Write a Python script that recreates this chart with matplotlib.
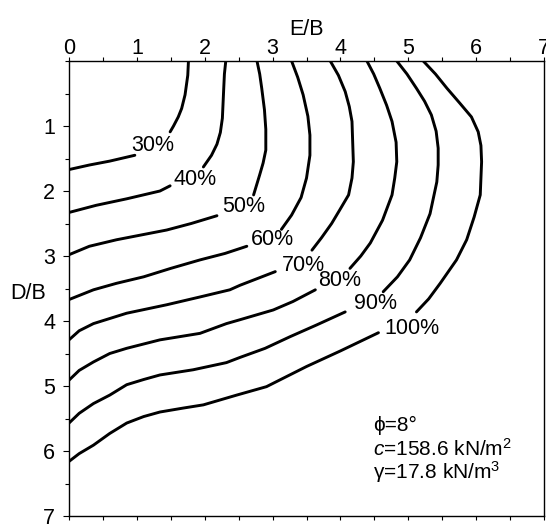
"""
Contours of D/B versus E/B for percentage levels, with soil parameters noted.
Saves to out.png.
"""

import numpy as np
import matplotlib
matplotlib.use("Agg")
import matplotlib.pyplot as plt
from matplotlib.ticker import MultipleLocator

plt.rcParams["font.family"] = ["Liberation Sans", "DejaVu Sans"]
plt.rcParams["mathtext.fontset"] = "custom"
plt.rcParams["mathtext.rm"] = "Liberation Sans"
plt.rcParams["mathtext.it"] = "Liberation Sans:italic"

nan = np.nan

# each curve: branch from the top edge, gap at the label, branch to the left edge
eb_30 = [1.76, 1.75, 1.71, 1.66, 1.61, 1.54, 1.49, nan,
         0.97, 0.60, 0.30, 0.0]
db_30 = [0.0, 0.22, 0.52, 0.73, 0.86, 1.00, 1.09, nan,
         1.45, 1.54, 1.60, 1.67]

eb_40 = [2.31, 2.29, 2.28, 2.26, 2.23, 2.18, 2.10, 1.98, nan,
         1.49, 1.34, 0.85, 0.40, 0.0]
db_40 = [0.0, 0.20, 0.42, 0.88, 1.10, 1.28, 1.45, 1.63, nan,
         1.92, 2.00, 2.12, 2.22, 2.33]

eb_50 = [2.77, 2.81, 2.84, 2.88, 2.90, 2.90, 2.86, 2.81, 2.72, nan,
         2.18, 1.80, 1.44, 0.70, 0.30, 0.0]
db_50 = [0.0, 0.20, 0.42, 0.75, 1.05, 1.37, 1.57, 1.75, 2.06, nan,
         2.38, 2.50, 2.60, 2.75, 2.85, 2.98]

eb_60 = [3.28, 3.37, 3.45, 3.52, 3.55, 3.55, 3.50, 3.42, 3.28, 3.13, nan,
         2.62, 2.30, 1.93, 1.50, 1.10, 0.70, 0.36, 0.0]
db_60 = [0.0, 0.25, 0.52, 0.85, 1.14, 1.45, 1.80, 2.10, 2.37, 2.59, nan,
         2.85, 2.96, 3.06, 3.19, 3.32, 3.42, 3.52, 3.67]

eb_70 = [3.85, 3.97, 4.07, 4.13, 4.17, 4.19, 4.17, 4.12, 3.99, 3.87, 3.72, 3.58, nan,
         3.04, 2.52, 2.37, 1.93, 1.44, 0.85, 0.36, 0.15, 0.0]
db_70 = [0.0, 0.22, 0.47, 0.70, 0.93, 1.55, 1.80, 2.06, 2.29, 2.50, 2.72, 2.91, nan,
         3.24, 3.45, 3.52, 3.63, 3.75, 3.88, 4.04, 4.15, 4.29]

eb_80 = [4.39, 4.49, 4.58, 4.68, 4.76, 4.82, 4.83, 4.80, 4.76, 4.62, 4.44, 4.30, 4.14, nan,
         3.63, 3.30, 3.01, 2.52, 2.32, 1.93, 1.34, 0.85, 0.60, 0.36, 0.15, 0.0]
db_80 = [0.0, 0.20, 0.42, 0.68, 0.93, 1.25, 1.55, 1.80, 2.06, 2.45, 2.80, 3.00, 3.19, nan,
         3.52, 3.70, 3.83, 3.98, 4.04, 4.19, 4.29, 4.42, 4.50, 4.63, 4.76, 4.91]

eb_90 = [4.83, 4.98, 5.12, 5.24, 5.34, 5.41, 5.44, 5.44, 5.42, 5.32, 5.18, 5.02, 4.84, 4.63, nan,
         4.07, 3.65, 3.26, 2.89, 2.52, 2.32, 1.83, 1.34, 1.10, 0.85, 0.60, 0.36, 0.15, 0.0]
db_90 = [0.0, 0.20, 0.42, 0.62, 0.83, 1.08, 1.34, 1.60, 1.86, 2.35, 2.72, 3.06, 3.32, 3.55, nan,
         3.86, 4.06, 4.24, 4.42, 4.56, 4.64, 4.75, 4.83, 4.90, 4.98, 5.14, 5.27, 5.42, 5.57]

eb_100 = [5.22, 5.40, 5.57, 5.76, 5.93, 6.03, 6.07, 6.08, 6.06, 5.97, 5.86, 5.71, 5.47, 5.30, 5.12, nan,
          4.56, 4.00, 3.50, 2.91, 2.47, 1.98, 1.68, 1.34, 1.10, 0.85, 0.60, 0.36, 0.15, 0.0]
db_100 = [0.0, 0.20, 0.42, 0.65, 0.86, 1.09, 1.30, 1.55, 2.06, 2.40, 2.75, 3.06, 3.42, 3.66, 3.86, nan,
          4.18, 4.46, 4.70, 5.01, 5.14, 5.29, 5.34, 5.40, 5.47, 5.57, 5.73, 5.91, 6.04, 6.16]

curves = [(eb_30, db_30), (eb_40, db_40), (eb_50, db_50), (eb_60, db_60),
          (eb_70, db_70), (eb_80, db_80), (eb_90, db_90), (eb_100, db_100)]

levels = ["30%", "40%", "50%", "60%", "70%", "80%", "90%", "100%"]
label_eb = [1.23, 1.86, 2.57, 3.00, 3.45, 3.99, 4.51, 5.05]
label_db = [1.30, 1.83, 2.24, 2.74, 3.14, 3.37, 3.73, 4.11]

params = ["\u03d5=8\u00b0", r"$c$=158.6 kN/m$^2$", "\u03b3=17.8 kN/m$^3$"]

fig = plt.figure(figsize=(5.46, 5.26), dpi=100)
ax = fig.add_axes([0.1264, 0.019, 0.870, 0.865])

for x, y in curves:
    ax.plot(x, y, color="black", linewidth=2.1, solid_capstyle="round",
            solid_joinstyle="round")

for lab, x, y in zip(levels, label_eb, label_db):
    ax.text(x, y, lab, fontsize=15.5, ha="center", va="center")

for i, s in enumerate(params):
    ax.text(4.48, 5.61 + i * 0.36, s, fontsize=15, ha="left", va="center")

ax.set_xlim(0, 7)
ax.set_ylim(7, 0)
ax.xaxis.tick_top()
ax.xaxis.set_label_position("top")
ax.set_xticks(range(0, 8))
ax.set_yticks(range(1, 8))
ax.xaxis.set_minor_locator(MultipleLocator(0.5))
ax.yaxis.set_minor_locator(MultipleLocator(0.5))
ax.tick_params(axis="x", which="both", top=True, bottom=True, direction="out",
               labelsize=15.5, pad=-1.5)
ax.tick_params(axis="x", which="major", length=3, width=0.8)
ax.tick_params(axis="x", which="minor", length=3, width=0.8)
ax.tick_params(axis="y", which="both", direction="out", labelsize=15.5, pad=6)
ax.tick_params(axis="y", which="major", length=4, width=0.8)
ax.tick_params(axis="y", which="minor", length=3, width=0.8)

ax.set_xlabel("E/B", fontsize=15.5, labelpad=2)
ax.set_ylabel("D/B", fontsize=15.5, rotation=0, ha="center", va="center")
ax.yaxis.set_label_coords(-0.086, 0.49)

for sp in ax.spines.values():
    sp.set_linewidth(1.0)

fig.savefig("out.png", dpi=100)
